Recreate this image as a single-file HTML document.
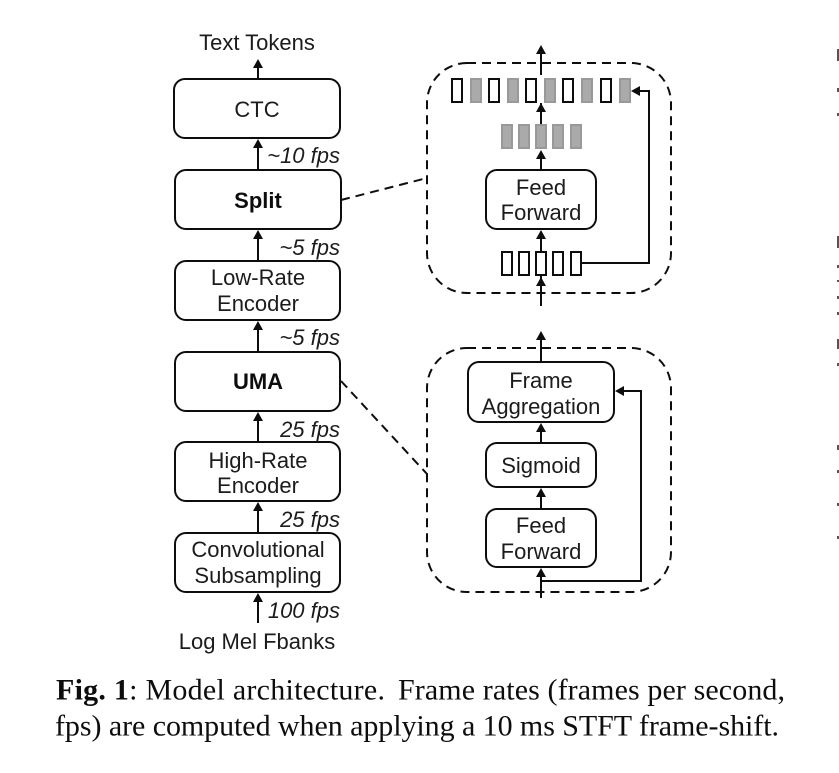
<!DOCTYPE html>
<html><head><meta charset="utf-8"><style>
html,body{margin:0;padding:0;background:#fff;width:839px;height:773px;overflow:hidden}
svg{display:block}
.s{font-family:"Liberation Sans",sans-serif;font-size:22px;fill:#1a1a1a;text-anchor:middle}
.b{font-weight:bold;fill:#111}
.i{font-style:italic;text-anchor:end}
.c{font-family:"Liberation Serif",serif;font-size:30px;fill:#111}
.box{fill:#fff;stroke:#111;stroke-width:2}
.d{fill:none;stroke:#111;stroke-width:2;stroke-dasharray:9 6}
.l{fill:none;stroke:#111;stroke-width:2}
.w{fill:#fff;stroke:#111;stroke-width:2}
.g{fill:#aaa;stroke:#999;stroke-width:2}
</style></head><body>
<svg width="839" height="773" viewBox="0 0 839 773" xmlns="http://www.w3.org/2000/svg">
<defs><filter id="f" x="0" y="0" width="100%" height="100%"><feGaussianBlur stdDeviation="0.35"/></filter></defs>
<g filter="url(#f)">
<rect x="427" y="63" width="244" height="230" rx="40" class="d"/>
<rect x="427" y="348" width="244" height="244" rx="40" class="d"/>
<path class="d" d="M341 200L427 178M341 381L427 474"/>

<g class="box">
<rect x="174" y="79" width="166" height="59" rx="11"/>
<rect x="175" y="170" width="166" height="59" rx="11"/>
<rect x="175" y="261" width="165" height="59" rx="11"/>
<rect x="175" y="352" width="165" height="59" rx="11"/>
<rect x="175" y="442" width="165" height="59" rx="11"/>
<rect x="175" y="533" width="165" height="59" rx="11"/>
<rect x="486" y="170" width="110" height="59" rx="11"/>
<rect x="468" y="362" width="146" height="60" rx="11"/>
<rect x="486" y="443" width="110" height="44" rx="11"/>
<rect x="486" y="509" width="110" height="58" rx="11"/>
</g>

<path class="l" d="M258 79V66M258 170V145M258 261V236M258 352V327M258 442V418M258 533V508M258 623V599M541 75V51M541 124V109M541 170V156M541 251V236M541 306V283M541 362V337M541 443V429M541 508V494M541 598V574M582 263H649V91H636M541 581H641V391H620"/>
<path fill="#111" d="M258 59l-5 9h10zM258 139l-5 9h10zM258 230l-5 9h10zM258 321l-5 9h10zM258 412l-5 9h10zM258 502l-5 9h10zM258 593l-5 9h10zM541 45l-5 9h10zM541 103l-5 9h10zM541 150l-5 9h10zM541 230l-5 9h10zM541 277l-5 9h10zM541 331l-5 9h10zM541 423l-5 9h10zM541 488l-5 9h10zM541 568l-5 9h10zM631 91l9-5v10zM615 391l9-5v10z"/>

<g class="w">
<rect x="452" y="79" width="10" height="23"/><rect x="489" y="79" width="10" height="23"/><rect x="526" y="79" width="10" height="23"/><rect x="563" y="79" width="10" height="23"/><rect x="601" y="79" width="10" height="23"/>
<rect x="502" y="252" width="10" height="23"/><rect x="519" y="252" width="10" height="23"/><rect x="536" y="252" width="10" height="23"/><rect x="553" y="252" width="10" height="23"/><rect x="571" y="252" width="10" height="23"/>
</g>
<g class="g">
<rect x="471" y="79" width="10" height="23"/><rect x="508" y="79" width="10" height="23"/><rect x="545" y="79" width="10" height="23"/><rect x="582" y="79" width="10" height="23"/><rect x="620" y="79" width="10" height="23"/>
<rect x="502" y="125" width="10" height="23"/><rect x="519" y="125" width="10" height="23"/><rect x="536" y="125" width="10" height="23"/><rect x="553" y="125" width="10" height="23"/><rect x="571" y="125" width="10" height="23"/>
</g>
<path class="l" d="M541 75V51M541 124V103M541 251V236M541 306V275" />

<text class="s" x="257" y="50">Text Tokens</text>
<text class="s" x="257" y="117">CTC</text>
<text class="s b" x="258" y="208">Split</text>
<text class="s" x="258" y="285">Low-Rate</text>
<text class="s" x="258" y="311">Encoder</text>
<text class="s b" x="258" y="389">UMA</text>
<text class="s" x="258" y="468">High-Rate</text>
<text class="s" x="258" y="493">Encoder</text>
<text class="s" x="258" y="557">Convolutional</text>
<text class="s" x="258" y="583">Subsampling</text>
<text class="s" x="257" y="649">Log Mel Fbanks</text>
<text class="s i" x="340" y="163">~10 fps</text>
<text class="s i" x="340" y="255">~5 fps</text>
<text class="s i" x="340" y="345">~5 fps</text>
<text class="s i" x="340" y="437">25 fps</text>
<text class="s i" x="340" y="527">25 fps</text>
<text class="s i" x="340" y="618">100 fps</text>
<text class="s" x="541" y="195">Feed</text>
<text class="s" x="541" y="220">Forward</text>
<text class="s" x="541" y="388">Frame</text>
<text class="s" x="541" y="414">Aggregation</text>
<text class="s" x="541" y="473">Sigmoid</text>
<text class="s" x="541" y="533">Feed</text>
<text class="s" x="541" y="559">Forward</text>

<text class="c" x="56" y="699.5" textLength="329" lengthAdjust="spacing"><tspan font-weight="bold">Fig. 1</tspan>: Model architecture.</text>
<text class="c" x="398" y="699.5" textLength="387" lengthAdjust="spacing">Frame rates (frames per second,</text>
<text class="c" x="55" y="735.5" textLength="724" lengthAdjust="spacing">fps) are computed when applying a 10 ms STFT frame-shift.</text>

<path fill="#555" d="M837 49h2v12h-2zM837 88h2v4h-2zM837 113h2v3h-2zM837 236h2v12h-2zM837 265h2v3h-2zM837 280h2v2h-2zM837 296h2v3h-2zM837 312h2v3h-2zM837 339h2v10h-2zM837 363h2v3h-2zM837 445h2v5h-2zM837 470h2v3h-2zM837 503h2v3h-2zM837 536h2v3h-2z"/>
</g>
</svg>
</body></html>
